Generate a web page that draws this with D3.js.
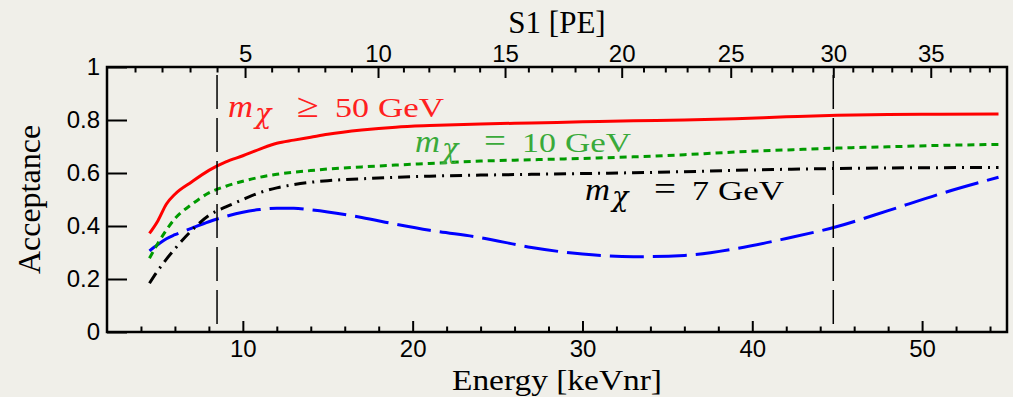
<!doctype html>
<html lang="en">
<head>
<meta charset="utf-8">
<title>Acceptance</title>
<script src="https://cdn.jsdelivr.net/npm/d3@7"></script>
<style>
  body { margin: 0; background: #f0efe9; }
  svg { display: block; font-family: "Liberation Serif", "Times New Roman", serif; }
  .axis path { display: none; }
  .axis line { stroke: #000; stroke-width: 2; }
  .axis text { font-size: 24px; fill: #000; }
</style>
</head>
<body>
<div id="chart"></div>
<script>
var energy = [4.5, 5, 5.5, 6, 7, 8, 9, 10, 11, 12, 13, 14, 15, 17, 19, 21, 24, 27, 30, 33, 36, 39, 42, 45, 48, 51, 54.5];
var accHeavy = [0.372, 0.42, 0.483, 0.52, 0.567, 0.61, 0.642, 0.665, 0.69, 0.712, 0.724, 0.735, 0.746, 0.762, 0.773, 0.779, 0.785, 0.789, 0.793, 0.797, 0.80, 0.805, 0.812, 0.818, 0.821, 0.822, 0.823];
var acc10 = [0.278, 0.335, 0.385, 0.428, 0.482, 0.525, 0.55, 0.569, 0.584, 0.595, 0.603, 0.609, 0.615, 0.623, 0.630, 0.636, 0.645, 0.650, 0.655, 0.661, 0.669, 0.679, 0.687, 0.694, 0.699, 0.704, 0.708];
var acc7 = [0.184, 0.232, 0.275, 0.314, 0.384, 0.44, 0.472, 0.50, 0.526, 0.544, 0.556, 0.565, 0.571, 0.578, 0.584, 0.588, 0.592, 0.595, 0.598, 0.601, 0.605, 0.610, 0.614, 0.617, 0.619, 0.620, 0.621];
var accBlue = [0.306, 0.33, 0.352, 0.367, 0.392, 0.416, 0.436, 0.452, 0.462, 0.467, 0.467, 0.461, 0.453, 0.432, 0.407, 0.384, 0.356, 0.319, 0.294, 0.284, 0.289, 0.314, 0.353, 0.398, 0.458, 0.52, 0.584];

// S1 (PE) to energy (keVnr) correspondence of the top axis
var s1Knots = [1, 2, 3, 4, 5, 10, 15, 20, 25, 30, 35, 38];
var s1Energy = [3.65, 5.24, 6.89, 8.48, 10.13, 17.96, 25.44, 32.31, 38.73, 44.77, 50.51, 53.96];
var s1Major = [5, 10, 15, 20, 25, 30, 35];
var s1Cuts = [4, 30];

var xMajor = [10, 20, 30, 40, 50];
var yTicks = [0, 0.2, 0.4, 0.6, 0.8, 1];

var series = [
  { values: accBlue, color: "#0000ff", dash: "34,9" },
  { values: acc7, color: "#000000", dash: "12,6,2,6" },
  { values: acc10, color: "#009a00", dash: "7,5" },
  { values: accHeavy, color: "#ff0000", dash: null }
];

var labels = [
  { rel: "\u2265", num: "50", E: 9.13, A: 0.811, color: "#ff2020" },
  { rel: "=", num: "10", E: 20.14, A: 0.679, color: "#3aaa3a" },
  { rel: "=", num: "7", E: 30.15, A: 0.498, color: "#000000" }
];

var width = 1013, height = 397;
var margin = { top: 67, right: 6, bottom: 65, left: 107 };
var w = width - margin.left - margin.right,
    h = height - margin.top - margin.bottom;

var svg = d3.select("#chart").append("svg")
    .attr("width", width)
    .attr("height", height);
var g = svg.append("g").attr("transform", "translate(" + margin.left + "," + margin.top + ")");

var x = d3.scaleLinear().domain([2, 55]).range([0, w]);
var y = d3.scaleLinear().domain([0, 1]).range([h, 0]);
var s1 = d3.scaleLinear().domain(s1Knots).range(s1Energy.map(x));

// curves
var line = d3.line()
    .x(function(d, i) { return x(energy[i]); })
    .y(function(d) { return y(d); })
    .curve(d3.curveMonotoneX);

g.selectAll("path.curve").data(series).enter()
  .append("path")
  .attr("class", "curve")
  .attr("d", function(d) { return line(d.values); })
  .attr("fill", "none")
  .attr("stroke", function(d) { return d.color; })
  .attr("stroke-width", 3)
  .attr("stroke-dasharray", function(d) { return d.dash; });

// S1 cut lines
g.selectAll("line.cut").data(s1Cuts).enter()
  .append("line")
  .attr("class", "cut")
  .attr("x1", function(d) { return s1(d); })
  .attr("x2", function(d) { return s1(d); })
  .attr("y1", y(0.97))
  .attr("y2", y(0))
  .attr("stroke", "#000")
  .attr("stroke-width", 1.5)
  .attr("stroke-dasharray", "34,9");

// axes
g.append("g").attr("class", "axis").attr("transform", "translate(0," + h + ")")
  .call(d3.axisBottom(x).tickValues(xMajor).tickSize(-11).tickPadding(8).tickFormat(d3.format("d")));
g.append("g").attr("class", "axis").attr("transform", "translate(0," + h + ")")
  .call(d3.axisBottom(x).tickValues(d3.range(4, 55, 2).filter(function(v) { return v % 10; }))
    .tickSize(-5.5).tickFormat(""));

g.append("g").attr("class", "axis")
  .call(d3.axisTop(s1).tickValues(s1Major).tickSize(-11).tickPadding(5).tickFormat(d3.format("d")));
g.append("g").attr("class", "axis")
  .call(d3.axisTop(s1).tickValues(d3.range(1, 39).filter(function(v) { return v % 5; }))
    .tickSize(-5.5).tickFormat(""));

g.append("g").attr("class", "axis")
  .call(d3.axisLeft(y).tickValues(yTicks).tickSize(-20).tickPadding(7).tickFormat(function(d) { return d; }));

g.append("rect")
  .attr("width", w).attr("height", h)
  .attr("fill", "none").attr("stroke", "#000").attr("stroke-width", 2.5);

// titles
svg.append("text")
  .attr("x", margin.left + w / 2).attr("y", 390)
  .attr("text-anchor", "middle").attr("font-size", 30)
  .attr("textLength", 210).attr("lengthAdjust", "spacingAndGlyphs")
  .text("Energy [keVnr]");
svg.append("text")
  .attr("x", margin.left + w / 2).attr("y", 33)
  .attr("text-anchor", "middle").attr("font-size", 31)
  .text("S1 [PE]");
svg.append("text")
  .attr("transform", "translate(40," + (margin.top + h / 2) + ") rotate(-90)")
  .attr("text-anchor", "middle").attr("font-size", 32)
  .text("Acceptance");

// curve labels
labels.forEach(function(l) {
  var lx = x(l.E), ly = y(l.A);
  var lg = g.append("g").attr("transform", "translate(" + lx + "," + ly + ")").attr("fill", l.color);
  lg.append("text").attr("font-size", 31).attr("font-style", "italic")
    .attr("textLength", 25).attr("lengthAdjust", "spacingAndGlyphs").text("m");
  lg.append("text").attr("x", 27).attr("y", 6).attr("font-size", 27).attr("font-style", "italic")
    .attr("font-family", "DejaVu Serif").text("\u03c7");
  lg.append("text").attr("x", 69).attr("font-size", 34)
    .attr("textLength", 22).attr("lengthAdjust", "spacingAndGlyphs").text(l.rel);
  var numW = l.num.length * 17;
  lg.append("text").attr("x", 107).attr("font-size", 27)
    .attr("textLength", numW).attr("lengthAdjust", "spacingAndGlyphs").text(l.num);
  lg.append("text").attr("x", 107 + numW + 9).attr("font-size", 27)
    .attr("textLength", 66).attr("lengthAdjust", "spacingAndGlyphs").text("GeV");
});
</script>
</body>
</html>
